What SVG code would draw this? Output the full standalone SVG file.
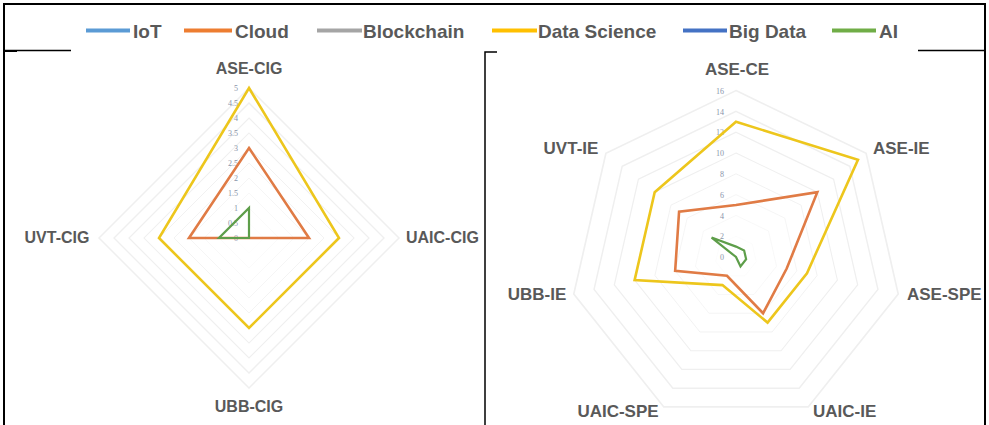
<svg xmlns="http://www.w3.org/2000/svg" xmlns:xlink="http://www.w3.org/1999/xlink" width="989" height="425" viewBox="0 0 989 425">
  <style>
    .frame { stroke: #000; fill: none; }
    .grid { fill: none; stroke: #efefef; stroke-width: 1; vector-effect: non-scaling-stroke; }
    .series { fill: none; stroke-width: 2.6; stroke-linejoin: miter; }
    .ds { stroke: #EDC61C; }
    .cloud { stroke: #E07B45; }
    .ai { stroke: #5E9E4A; stroke-width: 2.2; }
    .cat { font-family: "Liberation Sans", Arial, sans-serif; font-weight: bold; fill: #595959; }
    .tick { font-family: "Liberation Serif", serif; font-size: 8px; fill: #8a94aa; text-anchor: end; }
    .leg { font-family: "Liberation Sans", Arial, sans-serif; font-weight: bold; font-size: 19px; fill: #595959; }
    .legline { stroke-width: 4; }
  </style>
  <defs>
    <!-- unit rings, radius 100 -->
    <polygon id="diamond" points="0,-100 100,0 0,100 -100,0"/>
    <polygon id="hepta" points="0,-100 78.183,-62.349 97.493,22.252 43.388,90.097 -43.388,90.097 -97.493,22.252 -78.183,-62.349"/>
  </defs>

  <rect width="989" height="425" fill="#fff"/>

  <!-- outer frame -->
  <g id="frame" class="frame">
    <polyline points="4,425 4,4 985,4 985,425" stroke-width="2"/>
    <line x1="4" y1="50.5" x2="71" y2="50.5" stroke-width="1.5"/>
    <line x1="4" y1="51" x2="17" y2="51" stroke-width="2"/>
    <line x1="918" y1="50.5" x2="985" y2="50.5" stroke-width="1.5"/>
    <polyline points="497,52 485,52 485,425" stroke-width="1.5"/>
  </g>

  <!-- legend -->
  <g id="legend">
    <line class="legline" x1="86" y1="30.5" x2="130" y2="30.5" stroke="#5B9BD5"/>
    <text class="leg" x="133" y="38">IoT</text>
    <line class="legline" x1="184" y1="30.5" x2="232" y2="30.5" stroke="#ED7D31"/>
    <text class="leg" x="235" y="38">Cloud</text>
    <line class="legline" x1="317" y1="30.5" x2="362" y2="30.5" stroke="#A5A5A5"/>
    <text class="leg" x="363" y="38">Blockchain</text>
    <line class="legline" x1="492" y1="30.5" x2="537" y2="30.5" stroke="#FFC000"/>
    <text class="leg" x="538" y="38">Data Science</text>
    <line class="legline" x1="683" y1="30.5" x2="727" y2="30.5" stroke="#4472C4"/>
    <text class="leg" x="729" y="38">Big Data</text>
    <line class="legline" x1="832" y1="30.5" x2="876" y2="30.5" stroke="#70AD47"/>
    <text class="leg" x="879" y="38">AI</text>
  </g>

  <!-- left radar: CIG, scale 0..5, 30px per unit -->
  <g id="radar-cig">
    <g id="cig-grid">
      <use href="#diamond" class="grid" transform="translate(249 238) scale(0.15)"/>
      <use href="#diamond" class="grid" transform="translate(249 238) scale(0.30)"/>
      <use href="#diamond" class="grid" transform="translate(249 238) scale(0.45)"/>
      <use href="#diamond" class="grid" transform="translate(249 238) scale(0.60)"/>
      <use href="#diamond" class="grid" transform="translate(249 238) scale(0.75)"/>
      <use href="#diamond" class="grid" transform="translate(249 238) scale(0.90)"/>
      <use href="#diamond" class="grid" transform="translate(249 238) scale(1.05)"/>
      <use href="#diamond" class="grid" transform="translate(249 238) scale(1.20)"/>
      <use href="#diamond" class="grid" transform="translate(249 238) scale(1.35)"/>
      <use href="#diamond" class="grid" transform="translate(249 238) scale(1.50)"/>
    </g>
    <g id="cig-ticks">
      <text class="tick" x="238" y="91">5</text>
      <text class="tick" x="238" y="106">4.5</text>
      <text class="tick" x="238" y="121">4</text>
      <text class="tick" x="238" y="136">3.5</text>
      <text class="tick" x="238" y="151">3</text>
      <text class="tick" x="238" y="166">2.5</text>
      <text class="tick" x="238" y="181">2</text>
      <text class="tick" x="238" y="196">1.5</text>
      <text class="tick" x="238" y="211">1</text>
      <text class="tick" x="238" y="226">0.5</text>
      <text class="tick" x="238" y="241">0</text>
    </g>
    <g id="cig-series">
      <polygon class="series ds" points="249,88 339,238 249,328 159,238"/>
      <polygon class="series cloud" points="249,148 309,238 249,238 189,238"/>
      <polygon class="series ai" points="249,208 249,238 249,238 219,238"/>
    </g>
    <g id="cig-labels" class="cat" font-size="16">
      <text x="249" y="74" text-anchor="middle">ASE-CIG</text>
      <text x="406" y="243">UAIC-CIG</text>
      <text x="249" y="412" text-anchor="middle">UBB-CIG</text>
      <text x="57" y="243" text-anchor="middle">UVT-CIG</text>
    </g>
  </g>

  <!-- right radar: IE/CE/SPE, scale 0..16, 10.4px per unit -->
  <g id="radar-ie">
    <g id="ie-grid">
      <use href="#hepta" class="grid" transform="translate(736 257) scale(0.208)"/>
      <use href="#hepta" class="grid" transform="translate(736 257) scale(0.416)"/>
      <use href="#hepta" class="grid" transform="translate(736 257) scale(0.624)"/>
      <use href="#hepta" class="grid" transform="translate(736 257) scale(0.832)"/>
      <use href="#hepta" class="grid" transform="translate(736 257) scale(1.040)"/>
      <use href="#hepta" class="grid" transform="translate(736 257) scale(1.248)"/>
      <use href="#hepta" class="grid" transform="translate(736 257) scale(1.456)"/>
      <use href="#hepta" class="grid" transform="translate(736 257) scale(1.664)"/>
    </g>
    <g id="ie-ticks">
      <text class="tick" x="724" y="93.5">16</text>
      <text class="tick" x="724" y="114.5">14</text>
      <text class="tick" x="724" y="135.2">12</text>
      <text class="tick" x="724" y="156">10</text>
      <text class="tick" x="724" y="176.8">8</text>
      <text class="tick" x="724" y="197.5">6</text>
      <text class="tick" x="724" y="218.5">4</text>
      <text class="tick" x="724" y="239.2">2</text>
      <text class="tick" x="724" y="260">0</text>
    </g>
    <g id="ie-series">
      <polygon class="series ds" points="736,121.8 857.97,159.74 806.97,273.2 767.59,322.59 722.46,285.11 634.61,280.14 654.69,192.16"/>
      <polygon class="series cloud" points="736,205 817.31,192.16 786.7,268.57 763.07,313.22 726.98,275.74 675.16,270.89 679.08,211.61"/>
      <polygon class="series ai" points="736,246.6 744.13,250.52 746.14,259.31 740.51,266.37 736,257 736,257 711.61,237.55"/>
    </g>
    <g id="ie-labels" class="cat" font-size="17">
      <text x="737" y="75" text-anchor="middle">ASE-CE</text>
      <text x="873" y="154">ASE-IE</text>
      <text x="907" y="300">ASE-SPE</text>
      <text x="813" y="417">UAIC-IE</text>
      <text x="618" y="417" text-anchor="middle">UAIC-SPE</text>
      <text x="537" y="300" text-anchor="middle">UBB-IE</text>
      <text x="571" y="154" text-anchor="middle">UVT-IE</text>
    </g>
  </g>
</svg>
